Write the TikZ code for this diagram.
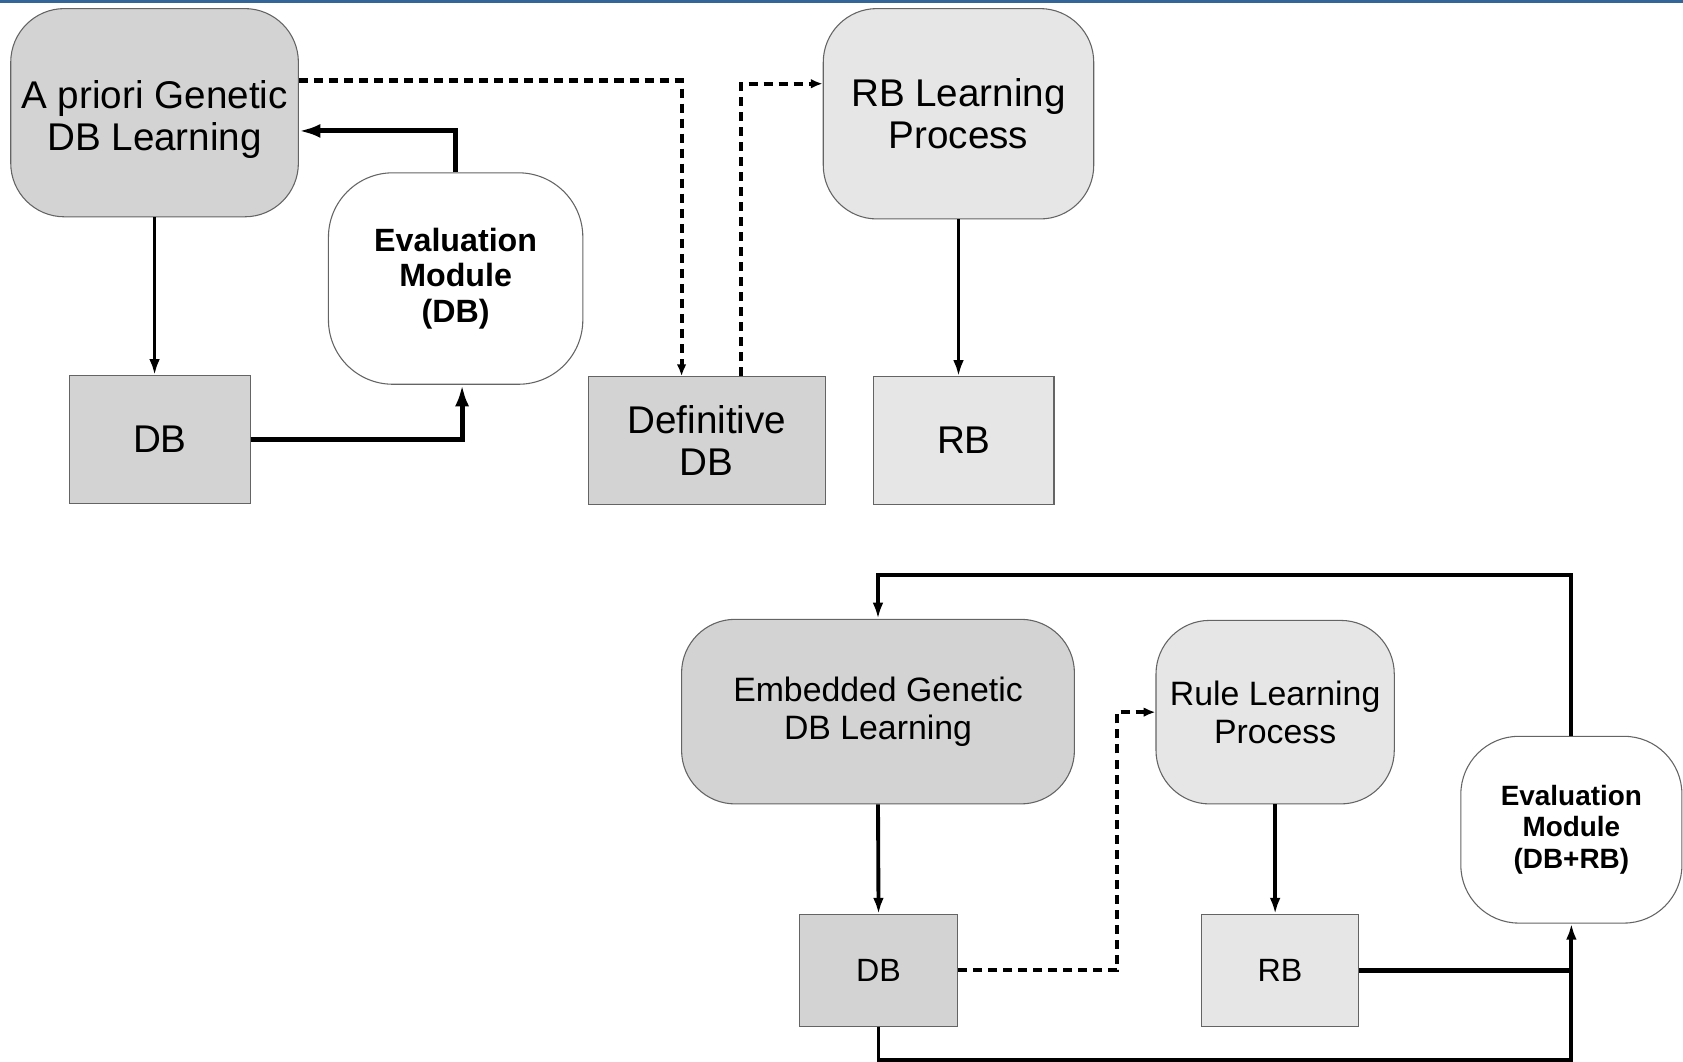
\documentclass[tikz,border=0pt]{standalone}
\usepackage{fontspec}
\setmainfont{Liberation Sans}
\usetikzlibrary{arrows.meta}

\definecolor{dbgray}{RGB}{211,211,211}
\definecolor{rbgray}{RGB}{230,230,230}
\definecolor{edgegray}{RGB}{100,100,100}
\definecolor{barblue}{RGB}{52,101,153}

\begin{document}
\begin{tikzpicture}[
  x=0.5pt,y=-0.5pt,
  >={Latex[length=7.5pt,width=5pt]},
  learner/.style={draw=edgegray,line width=0.5pt,rounded corners=25pt,align=center,
    font=\fontsize{18}{19.5}\selectfont},
  evalbox/.style={draw=edgegray,line width=0.5pt,fill=white,rounded corners=30pt,align=center,
    font=\bfseries\fontsize{15}{16.5}\selectfont},
  store/.style={draw=edgegray,line width=0.5pt,align=center,
    font=\fontsize{18}{19.5}\selectfont},
  flow/.style={->,line width=1.8pt},
  strong/.style={->,line width=2.3pt,>={Latex[length=10pt,width=6.5pt]}},
  feed/.style={->,line width=1.9pt,dash pattern=on 4.2pt off 2.8pt,>={Latex[length=5.5pt,width=4.5pt]}}
]
  \useasboundingbox (0,0) rectangle (1568,989);
  \fill[barblue] (0,0) rectangle (1568,3);

  % a priori learning
  \node[learner,fill=dbgray,minimum width=134pt,minimum height=97pt,text height=39pt] (apriori) at (144,105)
    {A priori Genetic\\DB Learning};
  \node[evalbox,minimum width=118.5pt,minimum height=98.5pt] (evaldb) at (424.5,259.5)
    {Evaluation\\Module\\(DB)};
  \node[store,fill=dbgray,minimum width=84pt,minimum height=59.5pt] (db1) at (149,409.5) {DB};
  \node[store,fill=dbgray,minimum width=110.5pt,minimum height=59.5pt] (defdb) at (658.5,410.5)
    {Definitive\\DB};
  \node[learner,fill=rbgray,minimum width=126pt,minimum height=98pt] (rblp) at (893,106)
    {RB Learning\\Process};
  \node[store,fill=rbgray,minimum width=84pt,minimum height=59.5pt] (rb1) at (898,410.5) {RB};

  \draw[flow] (apriori.south) -- (apriori.south |- db1.north);
  \draw[strong] (db1.east) -| ([xshift=3pt]evaldb.south);
  \draw[strong] (evaldb.north) |- ([yshift=-8.5pt]apriori.east);
  \draw[feed] ([yshift=15pt]apriori.east) -| ([xshift=-11.75pt]defdb.north);
  \draw[feed] ([xshift=15.75pt]defdb.north) |- ([yshift=14pt]rblp.west);
  \draw[flow] (rblp.south) -- (rblp.south |- rb1.north);

  % embedded learning
  \node[learner,fill=dbgray,minimum width=183pt,minimum height=86pt,
    font=\fontsize{15.75}{17.5}\selectfont] (embgen) at (818,663) {Embedded Genetic\\DB Learning};
  \node[learner,fill=rbgray,minimum width=111pt,minimum height=85.5pt,
    font=\fontsize{15.75}{17.5}\selectfont] (rlp) at (1188,663.5) {Rule Learning\\Process};
  \node[evalbox,minimum width=103pt,minimum height=87pt,rounded corners=27pt,
    font=\bfseries\fontsize{13}{14.5}\selectfont] (evaldbrb) at (1464,773)
    {Evaluation\\Module\\(DB+RB)};
  \node[store,fill=dbgray,minimum width=73.5pt,minimum height=52pt,
    font=\fontsize{15}{17}\selectfont] (db2) at (818.5,904) {DB};
  \node[store,fill=rbgray,minimum width=73.5pt,minimum height=52pt,
    font=\fontsize{15}{17}\selectfont] (rb2) at (1192.5,904) {RB};

  \draw[flow] (evaldbrb.north) -- ++(0,-150) -| (embgen.north);
  \draw[flow] (embgen.south) -- (db2.north);
  \draw[flow] (rlp.south) -- (rlp.south |- rb2.north);
  \draw[feed] (db2.east) -- ++(148,0) |- (rlp.west);
  \draw[line width=2.2pt] (rb2.east) -- (rb2.east -| evaldbrb.south);
  \draw[flow] (db2.south) -- ++(0,31) -| (evaldbrb.south);
\end{tikzpicture}
\end{document}
